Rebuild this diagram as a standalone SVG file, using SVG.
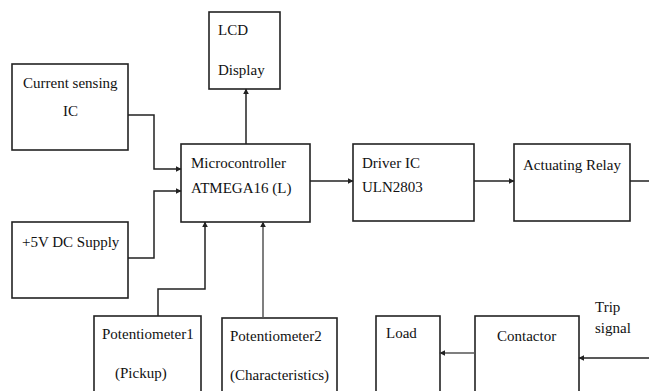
<svg xmlns="http://www.w3.org/2000/svg" width="649" height="391" viewBox="0 0 649 391">
<style>
.box{fill:#fff;stroke:#222;stroke-width:1.6}
.t{font-family:"Liberation Serif","Times New Roman",serif;font-size:15px;fill:#111}
.c{fill:none;stroke:#222;stroke-width:1.5}
.g{fill:none;stroke:#555;stroke-width:1.5}
</style>
<defs>
<marker id="a" viewBox="0 0 10 10" refX="9" refY="5" markerWidth="6" markerHeight="6" markerUnits="userSpaceOnUse" orient="auto">
<path d="M0,0 L10,5 L0,10 z" fill="#222"/>
</marker>
</defs>
<rect width="649" height="391" fill="#fff"/>
<g id="lcd"><rect class="box" x="209" y="12" width="71" height="77"/><text class="t" x="218" y="35">LCD</text><text class="t" x="218" y="75">Display</text></g>
<g id="current"><rect class="box" x="12" y="64" width="116" height="86"/><text class="t" x="23" y="88">Current sensing</text><text class="t" x="63" y="116">IC</text></g>
<g id="mcu"><rect class="box" x="181" y="144" width="129" height="78"/><text class="t" x="191" y="168">Microcontroller</text><text class="t" x="191" y="193">ATMEGA16 (L)</text></g>
<g id="supply"><rect class="box" x="12" y="222" width="116" height="76"/><text class="t" x="22" y="247">+5V DC Supply</text></g>
<g id="driver"><rect class="box" x="353" y="144" width="121" height="77"/><text class="t" x="362" y="168">Driver IC</text><text class="t" x="362" y="192">ULN2803</text></g>
<g id="relay"><rect class="box" x="514" y="144" width="116" height="77"/><text class="t" x="523" y="170">Actuating Relay</text></g>
<g id="pot1"><rect class="box" x="94" y="316" width="107" height="80"/><text class="t" x="102" y="339">Potentiometer1</text><text class="t" x="115" y="378">(Pickup)</text></g>
<g id="pot2"><rect class="box" x="222" y="318" width="115" height="78"/><text class="t" x="230" y="341">Potentiometer2</text><text class="t" x="230" y="380">(Characteristics)</text></g>
<g id="load"><rect class="box" x="376" y="316" width="64" height="80"/><text class="t" x="386" y="338">Load</text></g>
<g id="contactor"><rect class="box" x="475" y="316" width="104" height="80"/><text class="t" x="497" y="341">Contactor</text></g>
<g id="trip"><text class="t" x="595" y="312">Trip</text><text class="t" x="595" y="333">signal</text></g>
<g id="connectors">
<path class="c" d="M128,115 H154 V169 H181" marker-end="url(#a)"/>
<path class="c" d="M128,258 H154 V191 H181" marker-end="url(#a)"/>
<path class="c" d="M246,144 V89" marker-end="url(#a)"/>
<path class="c" d="M158,316 V289 H205 V222" marker-end="url(#a)"/>
<path class="g" d="M263,318 V222" marker-end="url(#a)"/>
<path class="c" d="M310,181 H353" marker-end="url(#a)"/>
<path class="c" d="M474,181 H514" marker-end="url(#a)"/>
<path class="c" d="M630,181 H649"/>
<path class="g" d="M475,353 H440" marker-end="url(#a)"/>
<path class="c" d="M649,358 H579" marker-end="url(#a)"/>
</g>
</svg>
